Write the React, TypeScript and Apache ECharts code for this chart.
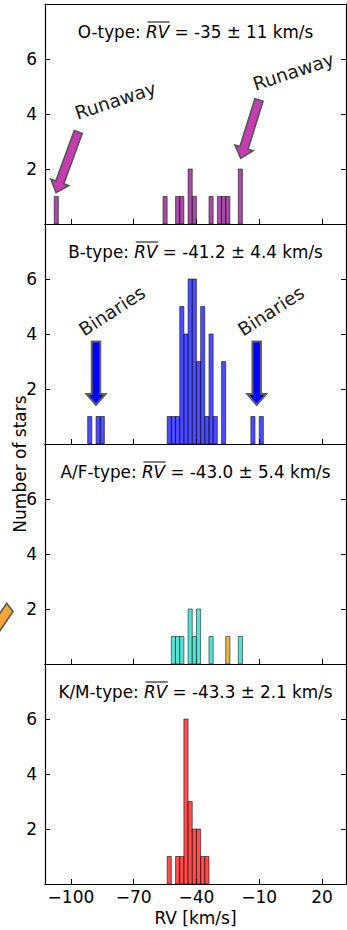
import React, { useEffect, useRef } from "react";
import * as echarts from "echarts";

// ---------- data ----------
const binWidth = 2; // km/s
const xTicks = [-100, -70, -40, -10, 20];
const yTicks = [2, 4, 6];

const oBins = [-108, -56, -50, -48, -44, -42, -34, -30, -28, -26, -20];
const oCounts = [1, 1, 1, 1, 2, 1, 1, 1, 1, 1, 2];

const bBins = [-92, -88, -86, -54, -52, -50, -48, -46, -44, -42, -40, -38, -36, -34, -32, -28, -14, -10];
const bCounts = [1, 1, 1, 1, 1, 1, 5, 4, 6, 6, 3, 5, 1, 4, 1, 3, 1, 1];

const afBins = [-52, -50, -48, -44, -42, -40, -34, -20];
const afCounts = [1, 1, 1, 2, 1, 2, 1, 1];
const afOrangeBins = [-26];
const afOrangeCounts = [1];

const kmBins = [-54, -50, -48, -46, -44, -42, -40, -38, -36];
const kmCounts = [1, 1, 1, 6, 3, 2, 2, 1, 1];

const titlePrefixes = ["O-type: ", "B-type: ", "A/F-type: ", "K/M-type: "];
const titleSuffixes = [" = -35 \u00b1 11 km/s", " = -41.2 \u00b1 4.4 km/s", " = -43.0 \u00b1 5.4 km/s", " = -43.3 \u00b1 2.1 km/s"];
const titleSymbol = "RV";

// ---------- layout ----------
const W = 347;
const H = 930;
const GL = 45;
const GW = 301;
const TOP0 = 4;
const PH = 220;
const XMIN = -112.4;
const XMAX = 31.5;
const FONT = "'DejaVu Sans', 'Liberation Sans', sans-serif";
const TITLE_SIZE = 16.8;
const TICK_SIZE = 17;

function measure(text: string, font: string): number {
  const c = document.createElement("canvas").getContext("2d");
  if (!c) return text.length * 9;
  c.font = font;
  return c.measureText(text).width;
}

function arrow(tail: number[], tip: number[], w: number, hw: number, hl: number): number[][] {
  const dx = tip[0] - tail[0];
  const dy = tip[1] - tail[1];
  const L = Math.hypot(dx, dy);
  const ux = dx / L, uy = dy / L;
  const nx = -uy, ny = ux;
  const bx = tip[0] - ux * hl, by = tip[1] - uy * hl;
  return [
    [tail[0] + nx * w / 2, tail[1] + ny * w / 2],
    [bx + nx * w / 2, by + ny * w / 2],
    [bx + nx * hw / 2, by + ny * hw / 2],
    [tip[0], tip[1]],
    [bx - nx * hw / 2, by - ny * hw / 2],
    [bx - nx * w / 2, by - ny * w / 2],
    [tail[0] - nx * w / 2, tail[1] - ny * w / 2],
  ];
}

function histSeries(idx: number, bins: number[], counts: number[], fill: string, stroke: string) {
  return {
    type: "custom",
    xAxisIndex: idx,
    yAxisIndex: idx,
    data: bins.map((b, i) => [b, counts[i]]),
    encode: { x: 0, y: 1 },
    renderItem: (params: any, api: any) => {
      const x0 = api.value(0);
      const c = api.value(1);
      const a = api.coord([x0, c]);
      const b = api.coord([x0 + binWidth, 0]);
      return {
        type: "rect",
        shape: { x: a[0], y: a[1], width: b[0] - a[0], height: b[1] - a[1] },
        style: { fill, stroke, lineWidth: 0.8 },
      };
    },
  };
}

export default function App() {
  const ref = useRef<HTMLDivElement>(null);
  useEffect(() => {
    if (!ref.current) return;
    const chart = echarts.init(ref.current, undefined, { renderer: "svg" });

    const grids: any[] = [];
    const xAxes: any[] = [];
    const xTop: any[] = [];
    const yLeft: any[] = [];
    const yRight: any[] = [];
    const axisLine = { show: true, onZero: false, lineStyle: { color: "#000", width: 1.2 } };
    const fmt = (v: number) => (v < 0 ? "\u2212" + Math.abs(v) : String(v));
    for (let i = 0; i < 4; i++) {
      grids.push({ left: GL, top: TOP0 + PH * i, width: GW, height: PH });
      xAxes.push({
        type: "value", gridIndex: i, min: XMIN, max: XMAX, position: "bottom",
        axisLine,
        axisTick: { show: true, inside: true, length: 5, customValues: xTicks, lineStyle: { color: "#000", width: 1 } },
        axisLabel: { show: i === 3, customValues: xTicks, formatter: fmt, margin: 4, fontSize: TICK_SIZE, fontFamily: FONT, color: "#000" },
        splitLine: { show: false },
      });
      xTop.push({
        type: "value", gridIndex: i, min: XMIN, max: XMAX, position: "top",
        axisLine, axisTick: { show: false }, axisLabel: { show: false }, splitLine: { show: false },
      });
      yLeft.push({
        type: "value", gridIndex: i, min: 0, max: 8, position: "left",
        axisLine,
        axisTick: { show: true, inside: true, length: 5, customValues: yTicks, lineStyle: { color: "#000", width: 1 } },
        axisLabel: { show: true, customValues: yTicks, margin: 8, fontSize: TICK_SIZE, fontFamily: FONT, color: "#000" },
        splitLine: { show: false },
      });
      yRight.push({
        type: "value", gridIndex: i, min: 0, max: 8, position: "right",
        axisLine,
        axisTick: { show: true, inside: true, length: 5, customValues: yTicks, lineStyle: { color: "#000", width: 1 } },
        axisLabel: { show: false },
        splitLine: { show: false },
      });
    }

    // titles with overlined italic RV
    const graphics: any[] = [];
    const fN = `${TITLE_SIZE}px ${FONT}`;
    const fI = `italic ${TITLE_SIZE}px ${FONT}`;
    const cx = GL + GW / 2;
    for (let i = 0; i < 4; i++) {
      const w1 = measure(titlePrefixes[i], fN);
      const w2 = measure(titleSymbol, fI);
      const w3 = measure(titleSuffixes[i], fN);
      const x0 = cx - (w1 + w2 + w3) / 2;
      const cy = TOP0 + PH * i + 28;
      const base = { fontSize: TITLE_SIZE, fontFamily: FONT, fill: "#000", align: "left", textAlign: "left", verticalAlign: "middle", textVerticalAlign: "middle" };
      graphics.push({ type: "text", x: x0, y: cy, style: { ...base, text: titlePrefixes[i] } });
      graphics.push({ type: "text", x: x0 + w1, y: cy, style: { ...base, text: titleSymbol, fontStyle: "italic" } });
      graphics.push({ type: "text", x: x0 + w1 + w2, y: cy, style: { ...base, text: titleSuffixes[i] } });
      graphics.push({ type: "line", shape: { x1: x0 + w1 + 1.5, y1: cy - 10, x2: x0 + w1 + w2 + 0.5, y2: cy - 10 }, style: { stroke: "#000", lineWidth: 1 } });
    }

    // annotations
    const annFont = { fontSize: 18.5, fontFamily: FONT, fill: "#1a1a1a", align: "center", textAlign: "center", verticalAlign: "middle", textVerticalAlign: "middle" };
    const magenta = { fill: "#c63cb2", stroke: "#555", lineWidth: 1.6 };
    const blue = { fill: "#0000ff", stroke: "#5e5e5e", lineWidth: 2 };
    graphics.push({ type: "polygon", shape: { points: arrow([78.3, 132], [56, 192.7], 8.5, 19, 11) }, style: magenta });
    graphics.push({ type: "polygon", shape: { points: arrow([259, 100], [240.7, 158.3], 8.5, 19, 11) }, style: magenta });
    graphics.push({ type: "text", x: 115.5, y: 100.5, rotation: (18 * Math.PI) / 180, style: { ...annFont, text: "Runaway" } });
    graphics.push({ type: "text", x: 293.5, y: 71.5, rotation: (18 * Math.PI) / 180, style: { ...annFont, text: "Runaway" } });
    graphics.push({ type: "polygon", shape: { points: arrow([96, 341.5], [96, 405], 8.5, 19, 11) }, style: blue });
    graphics.push({ type: "polygon", shape: { points: arrow([256.7, 341.5], [256.7, 405], 8.5, 19, 11) }, style: blue });
    graphics.push({ type: "text", x: 112, y: 311, rotation: (33 * Math.PI) / 180, style: { ...annFont, text: "Binaries" } });
    graphics.push({ type: "text", x: 271, y: 311, rotation: (33 * Math.PI) / 180, style: { ...annFont, text: "Binaries" } });
    graphics.push({ type: "polygon", shape: { points: [[6.7, 603.3], [13, 611.5], [-20, 660], [-26, 651]] }, style: { fill: "#f7a536", stroke: "#555", lineWidth: 1.5 } });

    // axis names
    graphics.push({ type: "text", x: cx, y: 918, style: { fontSize: TICK_SIZE, fontFamily: FONT, fill: "#000", text: "RV [km/s]", align: "center", textAlign: "center", verticalAlign: "middle", textVerticalAlign: "middle" } });
    graphics.push({ type: "text", x: 19.5, y: 464, rotation: Math.PI / 2, style: { fontSize: TICK_SIZE, fontFamily: FONT, fill: "#000", text: "Number of stars", align: "center", textAlign: "center", verticalAlign: "middle", textVerticalAlign: "middle" } });

    const edge = "rgba(0,0,0,0.65)";
    chart.setOption({
      animation: false,
      grid: grids,
      xAxis: [...xAxes, ...xTop],
      yAxis: [...yLeft, ...yRight],
      series: [
        histSeries(0, oBins, oCounts, "rgba(128,0,128,0.7)", edge),
        histSeries(1, bBins, bCounts, "rgba(0,0,255,0.7)", edge),
        histSeries(2, afBins, afCounts, "rgba(64,224,208,0.9)", edge),
        histSeries(2, afOrangeBins, afOrangeCounts, "rgba(218,165,32,0.8)", edge),
        histSeries(3, kmBins, kmCounts, "rgba(255,0,0,0.7)", edge),
      ],
      graphic: { elements: graphics },
    });
    return () => chart.dispose();
  }, []);
  return <div ref={ref} style={{ position: "absolute", left: 0, top: 0, width: W, height: H, background: "#fff" }} />;
}
